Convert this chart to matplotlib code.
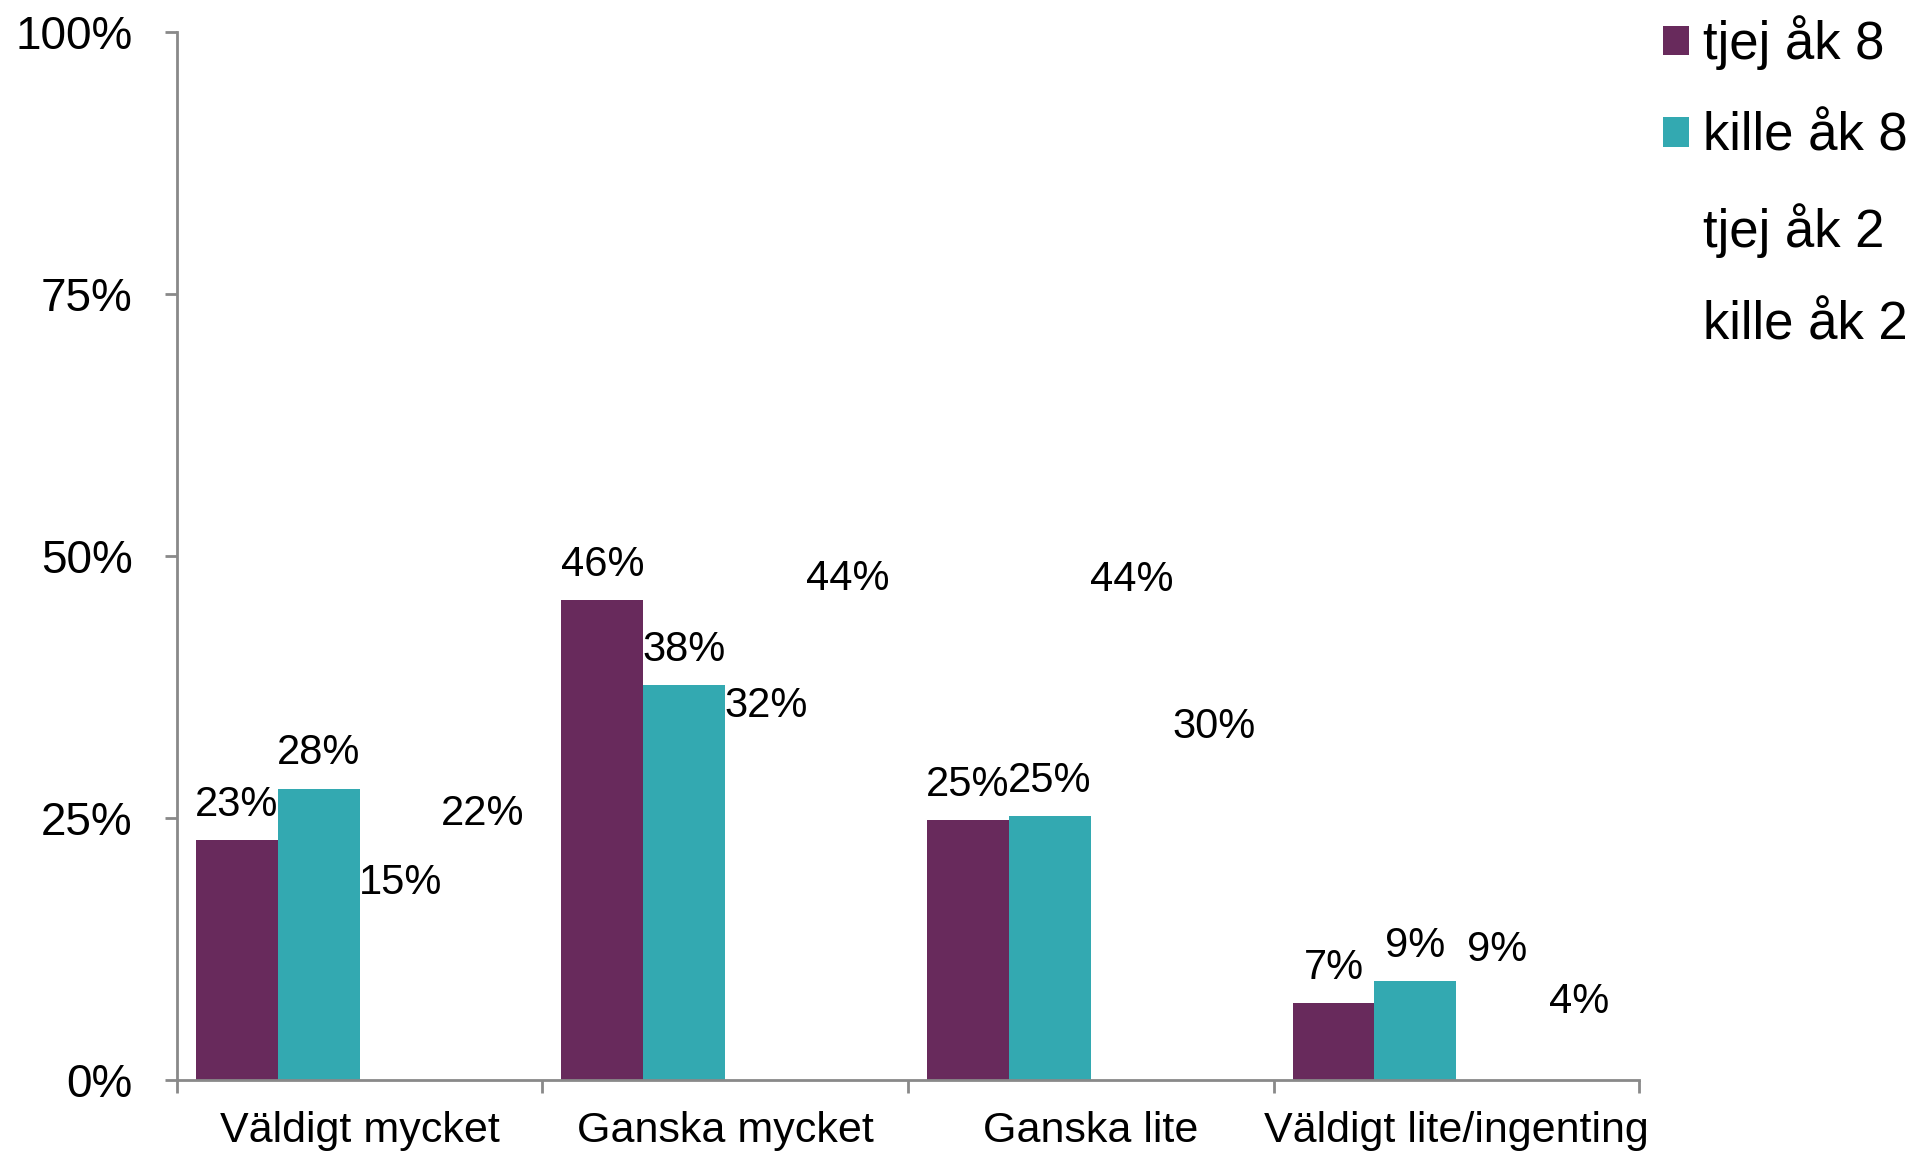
import numpy as np
import matplotlib
matplotlib.use("Agg")
import matplotlib.pyplot as plt
from matplotlib.patches import Patch
from matplotlib.ticker import FixedLocator, PercentFormatter

plt.rcParams['font.family'] = ['Liberation Sans', 'DejaVu Sans']

# data (labels show rounded values)
categories = ['Väldigt mycket', 'Ganska mycket', 'Ganska lite', 'Väldigt lite/ingenting']
series_names = ['tjej åk 8', 'kille åk 8', 'tjej åk 2', 'kille åk 2']
tjej_ak8 = [22.9, 45.8, 24.8, 7.3]
kille_ak8 = [27.8, 37.7, 25.2, 9.4]
tjej_ak2 = [15.4, 32.3, 44.3, 9.0]
kille_ak2 = [22.0, 44.4, 30.3, 4.1]
y_ticks = [0, 25, 50, 75, 100]

series = [tjej_ak8, kille_ak8, tjej_ak2, kille_ak2]
# the two åk 2 series have no visible fill in the original, only labels
colors = ['#682A5C', '#33A9B1', 'none', 'none']

fig = plt.figure(figsize=(19.13, 11.52), dpi=100)
ax = fig.add_axes([0.0925, 0.0625, 0.7643, 0.9097])

x = np.arange(len(categories))
w = 0.224
for j, vals in enumerate(series):
    bars = ax.bar(x + (j - 1.5) * w, vals, width=w, color=colors[j],
                  edgecolor='none', label=series_names[j])
    ax.bar_label(bars, labels=[f'{round(v)}%' for v in vals], padding=11,
                 fontsize=30, color='black')

ax.set_xlim(-0.5, len(categories) - 0.5)
ax.set_ylim(0, 100)

# axis styling
gray = '#898989'
for s in ['top', 'right']:
    ax.spines[s].set_visible(False)
for s in ['left', 'bottom']:
    ax.spines[s].set_color(gray)
    ax.spines[s].set_linewidth(2)

ax.yaxis.set_major_locator(FixedLocator(y_ticks))
ax.yaxis.set_major_formatter(PercentFormatter(decimals=0))
ax.tick_params(axis='y', length=9, width=2, color=gray, labelsize=33, pad=23)

ax.xaxis.set_major_locator(FixedLocator(np.arange(len(categories) + 1) - 0.5))
ax.xaxis.set_minor_locator(FixedLocator(x))
ax.set_xticklabels([])
ax.set_xticklabels(categories, minor=True)
ax.tick_params(axis='x', which='major', length=9, width=2, color=gray)
ax.tick_params(axis='x', which='minor', length=0, labelsize=31, pad=22)

handles = [Patch(facecolor=c, edgecolor='none') for c in colors]
fig.legend(handles, series_names, loc='upper left',
           bbox_to_anchor=(0.8583, 1.005), frameon=False, fontsize=38,
           handlelength=0.49, handleheight=0.49, handletextpad=0.27,
           labelspacing=0.79, borderaxespad=0)

fig.savefig('out.png', dpi=100)
